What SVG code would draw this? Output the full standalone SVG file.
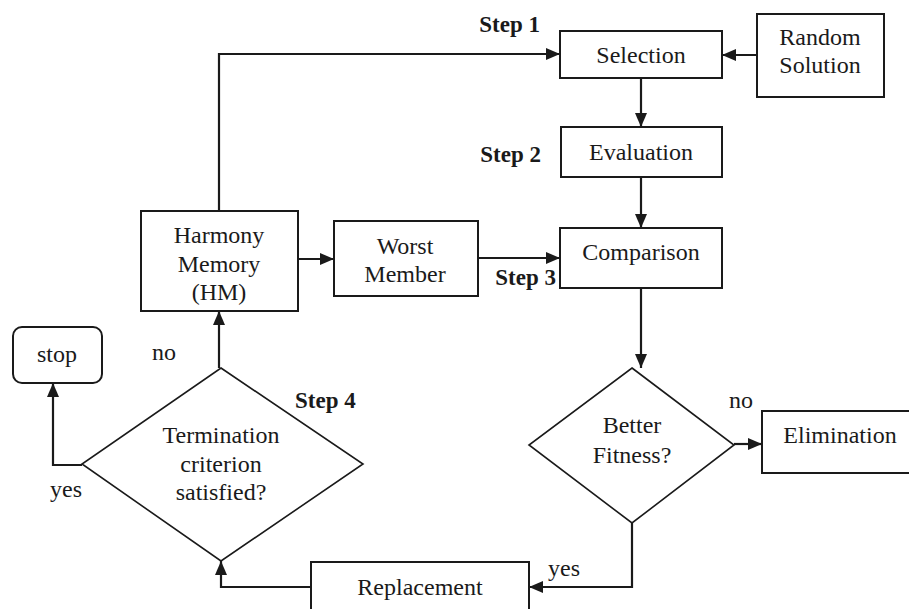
<svg xmlns="http://www.w3.org/2000/svg" width="909" height="609" viewBox="0 0 909 609">
<defs>
<marker id="ah" viewBox="0 0 14 12" refX="14" refY="6" markerWidth="14" markerHeight="12" markerUnits="userSpaceOnUse" orient="auto">
<path d="M0,0 L14,6 L0,12 z" fill="#1a1a1a"/>
</marker>
<style>
.box{fill:#fff;stroke:#1a1a1a;stroke-width:2}
.dia{fill:#fff;stroke:#1a1a1a;stroke-width:1.6}
.c{fill:none;stroke:#1a1a1a;stroke-width:2.2}
</style>
</defs>
<rect width="909" height="609" fill="#fff"/>
<g id="connectors">
<path class="c" d="M219,211 V54 H560" marker-end="url(#ah)"/>
<path class="c" d="M757,55 H722" marker-end="url(#ah)"/>
<path class="c" d="M641,78 V127" marker-end="url(#ah)"/>
<path class="c" d="M641,177 V228" marker-end="url(#ah)"/>
<path class="c" d="M298,259 H334" marker-end="url(#ah)"/>
<path class="c" d="M478,258 H560" marker-end="url(#ah)"/>
<path class="c" d="M641,288 V368" marker-end="url(#ah)"/>
<path class="c" d="M734,444 H762" marker-end="url(#ah)"/>
<path class="c" d="M632,523 V587 H529" marker-end="url(#ah)"/>
<path class="c" d="M311,587 H221 V561" marker-end="url(#ah)"/>
<path class="c" d="M82,465 H53 V383" marker-end="url(#ah)"/>
<path class="c" d="M219,368 V311" marker-end="url(#ah)"/>
</g>
<g id="selection">
<rect class="box" x="560" y="31" width="162" height="47"/>
<text font-family="Liberation Serif" font-size="24" fill="#1a1a1a" text-anchor="middle" x="641" y="63">Selection</text>
</g>
<g id="random-solution">
<rect class="box" x="757" y="14" width="127" height="83"/>
<text font-family="Liberation Serif" font-size="24" fill="#1a1a1a" text-anchor="middle" x="820" y="45">Random</text>
<text font-family="Liberation Serif" font-size="24" fill="#1a1a1a" text-anchor="middle" x="820" y="73">Solution</text>
</g>
<g id="evaluation">
<rect class="box" x="561" y="127" width="161" height="50"/>
<text font-family="Liberation Serif" font-size="24" fill="#1a1a1a" text-anchor="middle" x="641" y="160">Evaluation</text>
</g>
<g id="comparison">
<rect class="box" x="560" y="228" width="162" height="60"/>
<text font-family="Liberation Serif" font-size="24" fill="#1a1a1a" text-anchor="middle" x="641" y="260">Comparison</text>
</g>
<g id="harmony-memory">
<rect class="box" x="141" y="211" width="157" height="100"/>
<text font-family="Liberation Serif" font-size="24" fill="#1a1a1a" text-anchor="middle" x="219" y="243">Harmony</text>
<text font-family="Liberation Serif" font-size="24" fill="#1a1a1a" text-anchor="middle" x="219" y="272">Memory</text>
<text font-family="Liberation Serif" font-size="24" fill="#1a1a1a" text-anchor="middle" x="219" y="300">(HM)</text>
</g>
<g id="worst-member">
<rect class="box" x="334" y="221" width="144" height="75"/>
<text font-family="Liberation Serif" font-size="24" fill="#1a1a1a" text-anchor="middle" x="405" y="254">Worst</text>
<text font-family="Liberation Serif" font-size="24" fill="#1a1a1a" text-anchor="middle" x="405" y="282">Member</text>
</g>
<g id="better-fitness">
<polygon class="dia" points="632,368 734,445 632,523 529,445"/>
<text font-family="Liberation Serif" font-size="24" fill="#1a1a1a" text-anchor="middle" x="632" y="433">Better</text>
<text font-family="Liberation Serif" font-size="24" fill="#1a1a1a" text-anchor="middle" x="632" y="463">Fitness?</text>
</g>
<g id="elimination">
<rect class="box" x="762" y="411" width="160" height="62"/>
<text font-family="Liberation Serif" font-size="24" fill="#1a1a1a" text-anchor="middle" x="840" y="443">Elimination</text>
</g>
<g id="replacement">
<rect class="box" x="311" y="562" width="218" height="60"/>
<text font-family="Liberation Serif" font-size="24" fill="#1a1a1a" text-anchor="middle" x="420" y="595">Replacement</text>
</g>
<g id="termination">
<polygon class="dia" points="221,368 363,464 221,561 82,464"/>
<text font-family="Liberation Serif" font-size="24" fill="#1a1a1a" text-anchor="middle" x="221" y="443">Termination</text>
<text font-family="Liberation Serif" font-size="24" fill="#1a1a1a" text-anchor="middle" x="221" y="472">criterion</text>
<text font-family="Liberation Serif" font-size="24" fill="#1a1a1a" text-anchor="middle" x="221" y="500">satisfied?</text>
</g>
<g id="stop">
<rect class="box" x="13" y="327" width="89" height="56" rx="9"/>
<text font-family="Liberation Serif" font-size="24" fill="#1a1a1a" text-anchor="middle" x="57" y="362">stop</text>
</g>
<g id="labels">
<text font-family="Liberation Serif" font-size="23" font-weight="bold" fill="#1a1a1a" text-anchor="end" x="540" y="32">Step 1</text>
<text font-family="Liberation Serif" font-size="23" font-weight="bold" fill="#1a1a1a" text-anchor="end" x="541" y="162">Step 2</text>
<text font-family="Liberation Serif" font-size="23" font-weight="bold" fill="#1a1a1a" text-anchor="end" x="556" y="285">Step 3</text>
<text font-family="Liberation Serif" font-size="23" font-weight="bold" fill="#1a1a1a" x="295" y="408">Step 4</text>
<text font-family="Liberation Serif" font-size="24" fill="#1a1a1a" x="152" y="360">no</text>
<text font-family="Liberation Serif" font-size="24" fill="#1a1a1a" x="50" y="497">yes</text>
<text font-family="Liberation Serif" font-size="24" fill="#1a1a1a" x="729" y="408">no</text>
<text font-family="Liberation Serif" font-size="24" fill="#1a1a1a" x="548" y="576">yes</text>
</g>
</svg>
